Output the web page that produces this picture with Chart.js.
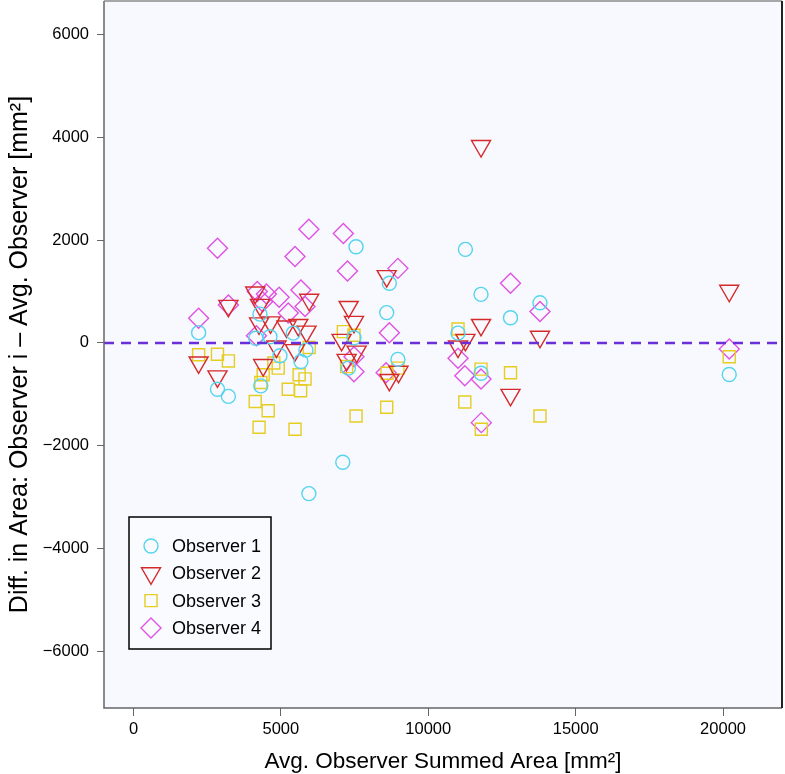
<!DOCTYPE html>
<html>
<head>
<meta charset="utf-8">
<script src="https://cdn.jsdelivr.net/npm/chart.js@4/dist/chart.umd.min.js"></script>
<style>
html,body{margin:0;padding:0;background:#ffffff;}
#wrap{width:785px;height:774px;}
</style>
</head>
<body>
<div id="wrap"><canvas id="c" width="785" height="774"></canvas></div>
<script>
// ---------------- data ----------------
const seriesNames = ['Observer 1', 'Observer 2', 'Observer 3', 'Observer 4'];

const obs1X = [2210, 2850, 3220, 4150, 4290, 4320, 4630, 4970, 5420, 5680, 5850, 5950, 7100, 7290, 7480, 7550, 8590, 8680, 8970, 11010, 11260, 11790, 11790, 12790, 13790, 20210];
const obs1Y = [200, -900, -1040, 90, 560, -835, 120, -250, 190, -360, -140, -2930, -2320, -490, 100, 1870, 590, 1160, -320, 190, 1820, 945, -590, 490, 780, -615];

const obs2X = [2210, 2850, 3220, 4130, 4290, 4260, 4650, 4400, 4850, 5190, 5590, 5870, 5960, 5480, 7060, 7300, 7480, 7570, 7230, 8590, 8990, 8680, 11010, 11260, 11790, 11790, 12790, 13790, 20210];
const obs2Y = [-380, -650, 720, 980, 740, 380, 400, -430, -70, 320, 350, 220, 840, -140, 60, 700, 410, -170, -330, 1300, -560, -720, -70, 60, 350, 3830, -1010, 120, 1015];

const obs3X = [2210, 2850, 3220, 4130, 4260, 4320, 4400, 4570, 4760, 4910, 5250, 5480, 5620, 5670, 5820, 5960, 7120, 7480, 7230, 7550, 8590, 8600, 8970, 11010, 11240, 11790, 11800, 12790, 13790, 20210];
const obs3Y = [-230, -220, -350, -1140, -1640, -770, -620, -1320, -390, -490, -900, -1680, -620, -930, -700, -90, 220, 150, -460, -1420, -1250, -590, -490, 270, -1150, -510, -1680, -580, -1420, -270];

const obs4X = [2210, 2850, 3220, 4170, 4200, 4380, 4510, 4940, 5250, 5480, 5680, 5820, 5950, 7120, 7260, 7480, 7480, 8570, 8680, 8970, 11010, 11240, 11790, 11800, 12790, 13790, 20210];
const obs4Y = [480, 1840, 740, 140, 1000, 800, 950, 890, 580, 1680, 1030, 710, 2210, 2130, 1400, -270, -560, -580, 200, 1450, -300, -640, -700, -1550, 1160, 610, -120];

const xTicks = [0, 5000, 10000, 15000, 20000];
const yTicks = [-6000, -4000, -2000, 0, 2000, 4000, 6000];
const xRange = [-1000, 22000];
const yRange = [-7100, 6650];
const zeroLineY = [0, 0];

const xTitle = 'Avg. Observer Summed Area [mm\u00B2]';
const yTitle = 'Diff. in Area: Observer i \u2013 Avg. Observer [mm\u00B2]';

// ---------------- helpers ----------------
function pts(xs, ys) { return xs.map((x, i) => ({ x: x, y: ys[i] })); }
function fmt(v) { return v < 0 ? '\u2212' + Math.abs(v) : String(v); }

const colors = ['#55d4ee', '#d42a2a', '#e5cd22', '#e052e4'];
const styles = ['circle', 'triangle', 'rect', 'rectRot'];
const radii = [7, 11, 8.5, 10];
const rots = [0, 180, 0, 0];
const xsAll = [obs1X, obs2X, obs3X, obs4X];
const ysAll = [obs1Y, obs2Y, obs3Y, obs4Y];

const datasets = seriesNames.map((name, i) => ({
  type: 'scatter',
  label: name,
  data: pts(xsAll[i], ysAll[i]),
  pointStyle: styles[i],
  pointRadius: radii[i],
  pointHoverRadius: radii[i],
  pointRotation: rots[i],
  pointBorderColor: colors[i],
  pointBackgroundColor: 'rgba(0,0,0,0)',
  pointBorderWidth: 1.4,
  borderColor: colors[i],
  backgroundColor: 'rgba(0,0,0,0)',
  showLine: false,
  order: 2,
  isObserver: true
}));

datasets.push({
  type: 'line',
  label: 'zero',
  data: pts(xRange, zeroLineY),
  borderColor: '#6a2fd8',
  borderWidth: 2.5,
  borderDash: [10, 7],
  pointRadius: 0,
  fill: false,
  order: 1,
  isObserver: false
});

function drawMarker(ctx, style, x, y, r, color) {
  ctx.save();
  ctx.strokeStyle = color;
  ctx.lineWidth = 1.4;
  ctx.beginPath();
  if (style === 'circle') {
    ctx.arc(x, y, r, 0, Math.PI * 2);
  } else if (style === 'triangle') {
    const s = Math.sin(Math.PI / 3) * r;
    ctx.moveTo(x - s, y - r / 2);
    ctx.lineTo(x + s, y - r / 2);
    ctx.lineTo(x, y + r);
    ctx.closePath();
  } else if (style === 'rect') {
    const s = Math.SQRT1_2 * r;
    ctx.rect(x - s, y - s, 2 * s, 2 * s);
  } else {
    ctx.moveTo(x - r, y);
    ctx.lineTo(x, y - r);
    ctx.lineTo(x + r, y);
    ctx.lineTo(x, y + r);
    ctx.closePath();
  }
  ctx.stroke();
  ctx.restore();
}

const bgPlugin = {
  id: 'plotBg',
  beforeDraw(chart) {
    const { ctx, chartArea: a } = chart;
    ctx.save();
    ctx.fillStyle = '#ffffff';
    ctx.fillRect(0, 0, chart.width, chart.height);
    ctx.fillStyle = '#f8f9fe';
    ctx.fillRect(a.left, a.top, a.right - a.left, a.bottom - a.top);
    ctx.restore();
  },
  afterDraw(chart) {
    const { ctx, chartArea: a } = chart;
    ctx.save();
    ctx.lineWidth = 1.5;
    ctx.strokeStyle = '#666666';
    ctx.beginPath();
    ctx.moveTo(a.left, a.top); ctx.lineTo(a.left, a.bottom); ctx.lineTo(a.right, a.bottom);
    ctx.stroke();
    ctx.strokeStyle = '#8a8a8a';
    ctx.beginPath(); ctx.moveTo(a.left, a.top); ctx.lineTo(a.right, a.top); ctx.stroke();
    ctx.strokeStyle = '#222222';
    ctx.lineWidth = 2;
    ctx.beginPath(); ctx.moveTo(a.right, a.top); ctx.lineTo(a.right, a.bottom); ctx.stroke();

    // legend
    const bx = a.left + 25, by = a.bottom - 191, bw = 142, bh = 132;
    ctx.fillStyle = '#fafbff';
    ctx.fillRect(bx, by, bw, bh);
    ctx.strokeStyle = '#000000';
    ctx.lineWidth = 1.5;
    ctx.strokeRect(bx, by, bw, bh);
    ctx.font = '18px "Liberation Sans", Arial, Helvetica, sans-serif';
    ctx.fillStyle = '#000000';
    ctx.textBaseline = 'middle';
    ctx.textAlign = 'left';
    const obs = chart.data.datasets.filter(d => d.isObserver);
    obs.forEach((d, i) => {
      const cy = by + 29 + i * 27.3;
      drawMarker(ctx, d.pointStyle, bx + 22, cy, d.pointRadius, d.pointBorderColor);
      ctx.fillText(d.label, bx + 43, cy + 1);
    });
    ctx.restore();
  }
};

Chart.defaults.font.family = '"Liberation Sans", Arial, Helvetica, sans-serif';
Chart.defaults.color = '#000000';

new Chart(document.getElementById('c'), {
  data: { datasets: datasets },
  options: {
    responsive: false,
    animation: false,
    devicePixelRatio: 1,
    layout: { autoPadding: false, padding: { top: 1, right: 3, left: 0, bottom: 0 } },
    plugins: {
      legend: { display: false },
      tooltip: { enabled: false }
    },
    scales: {
      x: {
        type: 'linear',
        min: xRange[0],
        max: xRange[1],
        afterFit(s) { s.height = 66; s.paddingLeft = 0; s.paddingRight = 0; },
        afterBuildTicks(s) { s.ticks = xTicks.map(v => ({ value: v })); },
        ticks: { callback: v => fmt(v), font: { size: 16.5 }, padding: 4, maxRotation: 0, color: '#000' },
        grid: { drawOnChartArea: false, drawTicks: true, tickLength: 8, color: '#666', tickColor: '#666' },
        border: { display: false },
        title: { display: true, text: xTitle, font: { size: 22.5, lineHeight: 1.1 }, padding: { top: 0, bottom: 0 }, color: '#000' }
      },
      y: {
        type: 'linear',
        min: yRange[0],
        max: yRange[1],
        afterFit(s) { s.width = 104; s.paddingTop = 0; s.paddingBottom = 0; },
        afterBuildTicks(s) { s.ticks = yTicks.map(v => ({ value: v })); },
        ticks: { callback: v => fmt(v), font: { size: 16.5 }, padding: 8, color: '#000' },
        grid: { drawOnChartArea: false, drawTicks: true, tickLength: 7, color: '#666', tickColor: '#666' },
        border: { display: false },
        title: { display: true, text: yTitle, font: { size: 25, lineHeight: 1.1 }, padding: { top: 6, bottom: 0 }, color: '#000' }
      }
    }
  },
  plugins: [bgPlugin]
});
</script>
</body>
</html>
